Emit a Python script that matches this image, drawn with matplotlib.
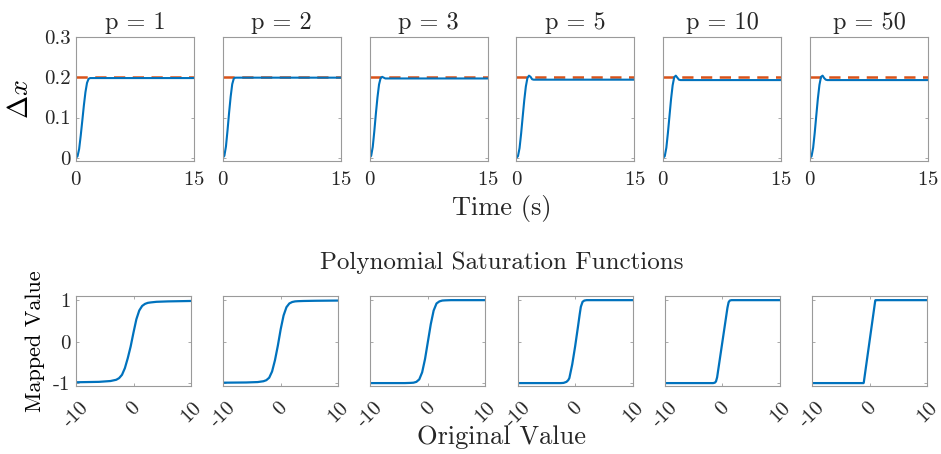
import numpy as np
import matplotlib
matplotlib.use("Agg")
import matplotlib.pyplot as plt

plt.rcParams['font.family'] = 'serif'
plt.rcParams['font.serif'] = ['cmr10']
plt.rcParams['mathtext.fontset'] = 'cm'
plt.rcParams['axes.unicode_minus'] = False
plt.rcParams['axes.formatter.use_mathtext'] = True

# ---- data ----
p_values = [1, 2, 3, 5, 10, 50]
ref_level = 0.2

# time response (delta x), same time grid for every panel
t = [0, 0.2, 0.4, 0.6, 0.8, 1.0, 1.2, 1.4, 1.6, 1.8, 2.0, 2.2, 2.5, 3.0, 15.0]
dx_p1 = [0, 0.004, 0.022, 0.055, 0.092, 0.130, 0.163, 0.186, 0.196, 0.198, 0.198, 0.198, 0.198, 0.198, 0.198]
dx_p2 = [0, 0.005, 0.028, 0.068, 0.112, 0.152, 0.183, 0.197, 0.199, 0.199, 0.199, 0.199, 0.199, 0.199, 0.199]
dx_p3 = [0, 0.005, 0.027, 0.066, 0.110, 0.150, 0.182, 0.198, 0.201, 0.199, 0.197, 0.197, 0.197, 0.197, 0.197]
dx_p5 = [0, 0.004, 0.024, 0.060, 0.102, 0.143, 0.177, 0.198, 0.204, 0.201, 0.195, 0.194, 0.194, 0.194, 0.194]
dx_p10 = [0, 0.004, 0.025, 0.062, 0.104, 0.146, 0.180, 0.200, 0.204, 0.199, 0.194, 0.193, 0.193, 0.193, 0.193]
dx_p50 = [0, 0.004, 0.025, 0.062, 0.105, 0.147, 0.181, 0.201, 0.204, 0.198, 0.194, 0.193, 0.193, 0.193, 0.193]
dx_all = [dx_p1, dx_p2, dx_p3, dx_p5, dx_p10, dx_p50]

# saturation functions
u_p1 = [-10, -6, -4, -3, -2.5, -2, -1.5, -1, -0.5, 0, 0.5, 1, 1.5, 2, 2.5, 3, 4, 6, 10]
s_p1 = [-0.98, -0.97, -0.95, -0.92, -0.88, -0.80, -0.64, -0.40, -0.12, 0.22, 0.54, 0.75, 0.86, 0.91, 0.935, 0.945, 0.96, 0.97, 0.98]
u_p2 = [-10, -6, -4, -3, -2.5, -2, -1.5, -1, -0.5, 0, 0.5, 1, 1.5, 2, 2.5, 3, 4, 6, 10]
s_p2 = [-0.99, -0.985, -0.975, -0.955, -0.93, -0.87, -0.72, -0.45, -0.10, 0.30, 0.63, 0.83, 0.92, 0.955, 0.97, 0.975, 0.98, 0.985, 0.99]
u_p3 = [-10, -4, -3, -2.5, -2, -1.5, -1, -0.5, 0, 0.5, 1, 1.5, 2, 2.5, 3, 4, 10]
s_p3 = [-1, -1, -0.995, -0.99, -0.97, -0.91, -0.74, -0.42, 0.0, 0.42, 0.75, 0.92, 0.97, 0.99, 0.995, 1, 1]
u_p5 = [-10, -2.5, -2, -1.5, -1.2, -1, -0.5, 0, 0.5, 0.8, 1, 1.3, 1.6, 2, 10]
s_p5 = [-1, -1, -0.995, -0.97, -0.93, -0.88, -0.55, -0.12, 0.36, 0.66, 0.84, 0.96, 0.99, 1, 1]
u_p10 = [-10, -1.6, -1.3, -1.1, -0.9, 0, 0.9, 1.1, 1.3, 1.6, 10]
s_p10 = [-1, -1, -0.99, -0.96, -0.86, -0.02, 0.82, 0.95, 0.99, 1, 1]
u_p50 = [-10, -1.05, -1, 1, 1.05, 10]
s_p50 = [-1, -1, -0.99, 0.99, 1, 1]
u_all = [u_p1, u_p2, u_p3, u_p5, u_p10, u_p50]
s_all = [s_p1, s_p2, s_p3, s_p5, s_p10, s_p50]

blue = '#0072BD'
orange = '#D95319'
spine_col = '#9a9a9a'
text_col = '#262626'

fig = plt.figure(figsize=(9.41, 4.54), dpi=100)
W, H = 941.0, 454.0


def style_axes(ax):
    for s in ax.spines.values():
        s.set_color(spine_col)
        s.set_linewidth(0.8)
    ax.tick_params(direction='in', length=2, width=0.6, color=spine_col,
                   top=True, right=True, labelcolor=text_col, labelsize=15)


for i, p in enumerate(p_values):
    left = 76 + i * 146.8
    ax = fig.add_axes([left / W, (H - 161) / H, 118 / W, 124 / H])
    ax.plot([0, 15], [ref_level, ref_level], '--', color=orange, lw=1.8, dashes=(4.5, 3))
    ax.plot(t, dx_all[i], color=blue, lw=1.5)
    ax.set_xlim(0, 15)
    ax.set_ylim(-0.008, 0.3)
    ax.set_xticks([0, 15])
    ax.set_yticks([0, 0.1, 0.2, 0.3])
    style_axes(ax)
    ax.tick_params(axis='x', pad=7)
    if i == 0:
        ax.set_yticklabels(['0', '0.1', '0.2', '0.3'])
        ax.tick_params(axis='y', pad=4)
        ax.set_ylabel(r'$\Delta x$', fontsize=20, labelpad=7)
    else:
        ax.set_yticklabels([])
    ax.set_title('p = %d' % p, fontsize=17.5, color=text_col, pad=6)

    left_b = 76 + i * 147.2
    bx = fig.add_axes([left_b / W, (H - 386) / H, 115 / W, 90 / H])
    bx.plot(u_all[i], s_all[i], color=blue, lw=1.6)
    bx.set_xlim(-10, 10)
    bx.set_ylim(-1.07, 1.1)
    bx.set_xticks([-10, 0, 10])
    bx.set_yticks([-1, 0, 1])
    style_axes(bx)
    bx.set_xticklabels(['-10', '0', '10'], rotation=45, ha='center', va='top')
    bx.tick_params(axis='x', pad=9)
    if i == 0:
        bx.set_yticklabels(['-1', '0', '1'])
        bx.tick_params(axis='y', pad=4)
        bx.set_ylabel('Mapped Value', fontsize=16, labelpad=6)
    else:
        bx.set_yticklabels([])

fig.text(502 / W, 1 - 208 / H, 'Time (s)', ha='center', va='center', fontsize=19, color=text_col)
fig.text(502 / W, 1 - 263 / H, 'Polynomial Saturation Functions', ha='center', va='center',
         fontsize=18, color=text_col)
fig.text(502 / W, 1 - 437 / H, 'Original Value', ha='center', va='center', fontsize=19, color=text_col)

fig.savefig('out.png', dpi=100)
